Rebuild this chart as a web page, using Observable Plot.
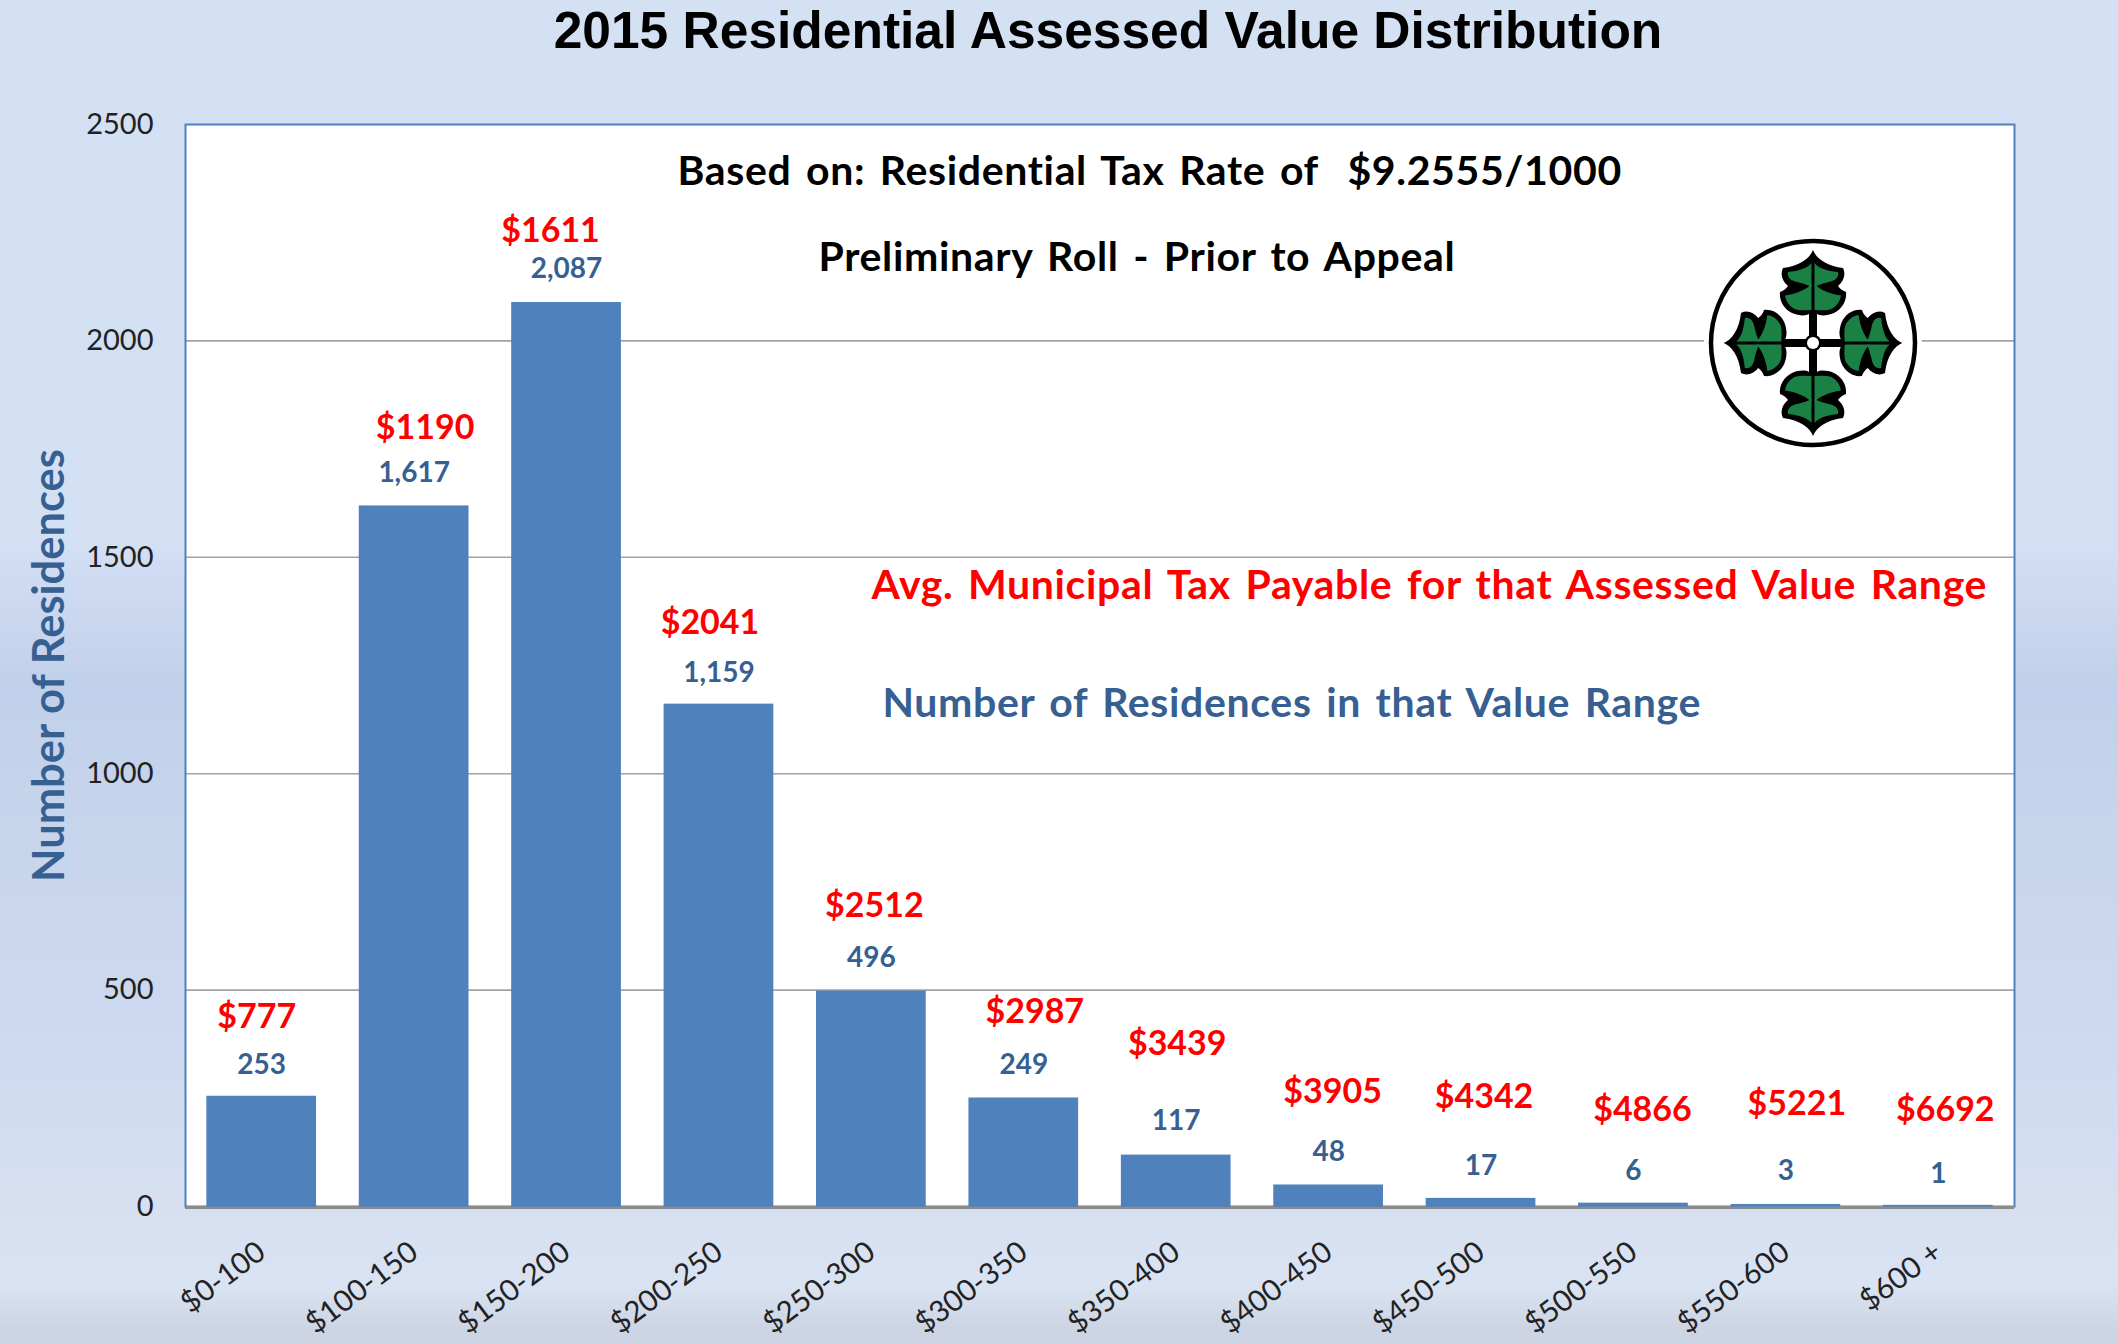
<!DOCTYPE html>
<html>
<head>
<meta charset="utf-8">
<script src="https://cdn.jsdelivr.net/npm/d3@7"></script>
<script src="https://cdn.jsdelivr.net/npm/@observablehq/plot@0.6"></script>
<style>
  html, body { margin: 0; padding: 0; width: 2118px; height: 1344px; overflow: hidden; }
  body { background: linear-gradient(180deg, #d3e1f3 0px, #d3e0f3 548px, #d1ddf3 560px, #c1d0ea 686px, #c6d4ec 814px, #cdd9f0 1028px, #d3def0 1157px, #d9e2f2 1260px, #dae3f2 1286px, #cdd5e4 1328px, #cdd5e4 1344px); }
  #title { height: 63px; padding-left: 98px; text-align: center; font: 700 51.5px "Liberation Sans", sans-serif; line-height: normal; color: #000; margin: 0; box-sizing: border-box; }
  svg { display: block; }
  .note { letter-spacing: 0.65px; word-spacing: 4px; }
</style>
</head>
<body>
<h1 id="title">2015 Residential Assessed Value Distribution</h1>
<div id="chart"></div>
<script>
const ranges = ["$0-100","$100-150","$150-200","$200-250","$250-300","$300-350","$350-400","$400-450","$450-500","$500-550","$550-600","$600 +"];
const residences = [253,1617,2087,1159,496,249,117,48,17,6,3,1];
const avgTax = [777,1190,1611,2041,2512,2987,3439,3905,4342,4866,5221,6692];

// label placement, in the y scale's units and in pixels from each bar's centre
const countLevel = [328,1695,2166,1233,574,328,197,125,94,81,81,75];
const taxLevel = [437,1798,2253,1348,693,449,375,265,253,222,237,222];
const taxNudge = [-5,11,-16,-9,3,11,1,4,3,9,11,7];

const notes = ["Based on: Residential Tax Rate of  $9.2555/1000","Preliminary Roll - Prior to Appeal","Avg. Municipal Tax Payable for that Assessed Value Range","Number of Residences in that Value Range"];
const noteLevel = [2391,2191,1433,1161];
const noteInset = [492,633,686,697];
const noteColor = ["#000000","#000000","#ff0000","#376092"];

const rows = ranges.map((r,i)=>({range:r,count:residences[i],tax:avgTax[i]}));
const labelFont = "Lato, sans-serif";

function leaf(g, angle, k) {
  const l = g.append("g").attr("transform",`rotate(${angle}) scale(1,${k})`);
  l.append("path").attr("fill","#000")
    .attr("d","M0,-93 C3,-85 13,-77 30,-75 C33,-69 31,-62 25,-57 C27,-54 30,-52 33,-51 C34,-42 29,-34 21,-30 C14,-27 7,-27 4,-29 L4,0 L-4,0 L-4,-29 C-7,-27 -14,-27 -21,-30 C-29,-34 -34,-42 -33,-51 C-30,-52 -27,-54 -25,-57 C-31,-62 -33,-69 -30,-75 C-13,-77 -3,-85 0,-93 Z");
  for (const s of [1,-1]) {
    l.append("path").attr("fill","#1a8044").attr("transform",`scale(${s},1)`)
      .attr("d","M1.5,-80 C5,-75 14,-72 25,-71 C26,-66 23,-63 18,-61.5 C11,-60 5,-58 1.5,-56 Z");
    l.append("path").attr("fill","#1a8044").attr("transform",`scale(${s},1)`)
      .attr("d","M1.5,-59 C6,-54 16,-49 28,-47.5 C27,-41 23,-36 17,-33.5 C11,-32 5,-33 1.5,-33 Z");
  }
}
function logo(index, scales, values, dimensions) {
  const cx = dimensions.width - dimensions.marginRight - 201;
  const cy = dimensions.marginTop + 219;
  const g = d3.create("svg:g").attr("transform",`translate(${cx},${cy})`);
  g.append("circle").attr("r",109).attr("fill","#fff");
  g.append("circle").attr("r",102).attr("fill","#fff").attr("stroke","#000").attr("stroke-width",4.5);
  [[0,1],[90,0.96],[180,1],[270,0.96]].forEach(([a,k])=>leaf(g,a,k));
  g.append("circle").attr("r",8.5).attr("fill","#000");
  g.append("circle").attr("r",6).attr("fill","#fff");
  return g.node();
}

const marks = [
  Plot.frame({fill:"#fff", stroke:"none"}),
  Plot.ruleY([500,1000,1500,2000],{stroke:"#a3a3a3",strokeWidth:1.6}),
  Plot.frame({stroke:"#4f81bd",strokeWidth:2}),
  Plot.ruleY([0],{stroke:"#8c8c8c",strokeWidth:3,dy:1}),
  Plot.barY(rows,{x:"range",y:"count",fill:"#4f81bd",stroke:"#4f81bd",strokeWidth:1.5}),
  Plot.axisX({tickSize:0,tickRotate:-37,tickPadding:42,fontSize:29.5,fontFamily:labelFont,label:null,color:"#222"}),
  Plot.axisY({ticks:[0,500,1000,1500,2000,2500],tickFormat:"d",tickSize:0,tickPadding:32,fontSize:29,fontFamily:labelFont,label:null,color:"#222"}),
  logo,
  Plot.text(["Number of Residences"],{text:d=>d,y:[1250],frameAnchor:"left",textAnchor:"middle",dx:-135,rotate:-90,fill:"#376092",fontWeight:700,fontSize:43.5,fontFamily:labelFont}),
  Plot.text(rows,{x:"range",y:(d,i)=>countLevel[i],text:d=>d3.format(",")(d.count),fill:"#376092",fontWeight:700,fontSize:28,fontFamily:labelFont}),
  ...rows.map((d,i)=>Plot.text([d],{x:"range",y:[taxLevel[i]],dx:taxNudge[i],text:r=>"$"+r.tax,fill:"#ff0000",fontWeight:700,fontSize:34,fontFamily:labelFont})),
  ...notes.map((n,i)=>Plot.text([n],{text:d=>d,y:[noteLevel[i]],frameAnchor:"left",dx:noteInset[i],textAnchor:"start",fill:noteColor[i],fontWeight:700,fontSize:41,fontFamily:labelFont,lineWidth:Infinity,className:"note"}))
];

const chart = Plot.plot({
  width:2118, height:1281,
  marginTop:61, marginBottom:138, marginLeft:185, marginRight:104,
  style:{background:"transparent",overflow:"visible"},
  x:{domain:ranges,paddingInner:0.29,paddingOuter:0.145,round:false,axis:null},
  y:{domain:[0,2500],axis:null},
  marks
});
document.getElementById("chart").append(chart);
</script>
</body>
</html>
